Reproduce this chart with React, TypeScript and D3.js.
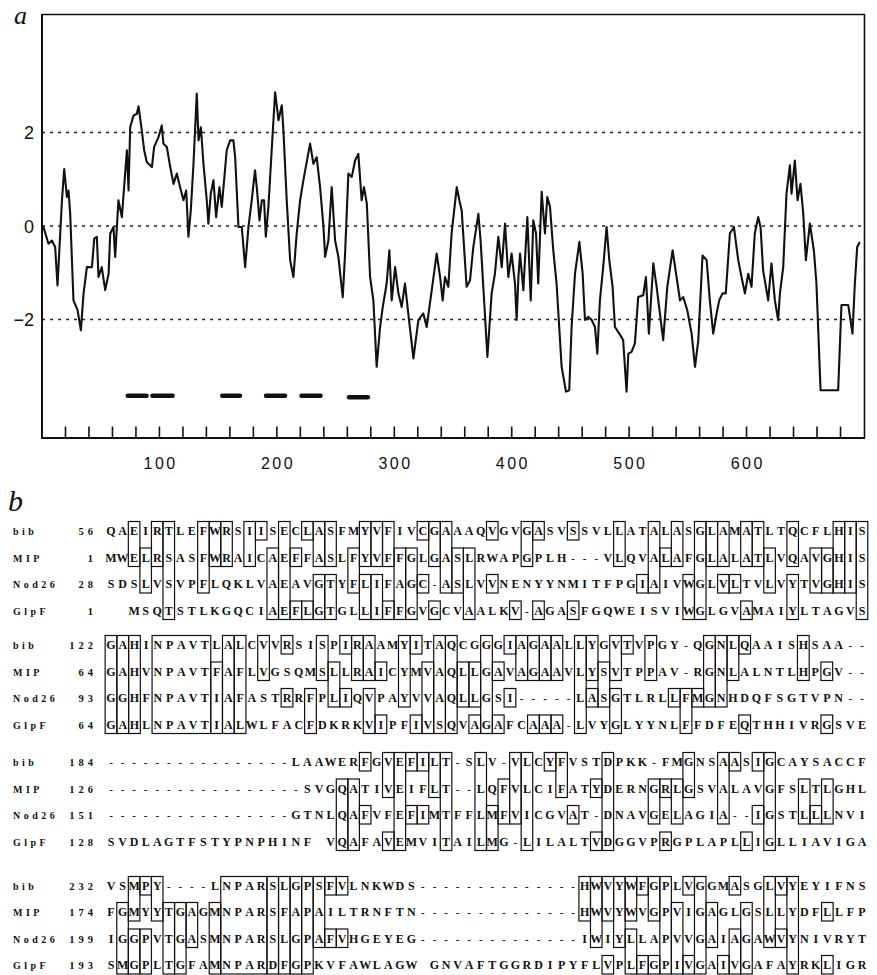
import React from 'react';
import * as d3 from 'd3';

// ---------- Panel a : hydropathy profile ----------
const residuePos = [1,5.5,8.4,11.2,13.2,17,18.9,21.2,22.6,24,26.8,30.3,33.1,35.4,38.2,42.5,44.5,46.7,48.1,50.9,53.8,56.7,58.1,60.9,62.3,65.1,68,70.8,72.3,73.7,75.1,77.9,80.8,82.2,85,87,89.2,93.6,95.5,99.2,102,103.4,106.3,109.2,112,114.8,117.6,120.5,122.8,124.7,126.7,129,131.8,133.3,135.3,137.5,140.3,141.7,143.7,146,148.3,151.1,153.1,157.3,160.2,163,164.5,167.3,170.1,173,175.8,178.6,181.4,182.9,185.2,187.2,189.1,190.6,192.8,195.6,198.5,201.4,204.2,205.6,208.4,211.3,214.1,216.9,219.8,222.6,228.3,231.1,233.9,236.8,239.7,241.1,243.9,246.7,249.6,252.4,256.1,258.1,260.9,263.8,266.6,269.4,272.2,274.2,276.6,279.4,282.2,285,287.9,290.2,293.5,295.8,297.8,300.7,303.5,306.3,309.1,311.9,316.3,320.5,324.7,327.6,331.9,336.1,339,341.2,343.2,346,348.8,353.2,355.4,357.4,361.6,364.5,367.3,371.6,373.5,375.8,379.3,382.9,385.7,388.6,391.5,394.3,397.1,399.9,402.8,404.2,405.7,407.1,409.9,413.3,416.2,418.4,420.7,422.6,425.5,428.3,430.3,432.6,435.4,438.2,442.5,446.2,449,451,453.9,457.6,460.4,462.4,465.2,468.1,470.9,472.9,475.1,477.9,480.8,483.1,485.9,487.9,491.6,494.9,497.8,499.3,502.1,504.9,507.7,512,514.3,516.8,520.6,523.4,526.2,529,532.5,537,540.4,543.3,546.1,549.5,553.2,556.1,558.9,562.5,566,568.7,571.6,574.5,576.7,579.5,582.3,585.8,589.2,592.9,595.7,598.6,601.4,604.2,607,609.9,611.9,614.1,618.4,621.2,624.1,626.9,628.4,631.2,634,636.9,638.3,641.1,643.4,645.9,648.3,650.5,653.9,657.3,659.5,663,678,680.8,686.6,690.2,692.2,694.2,696.4];
const hydropathy = [0,-0.38,-0.31,-0.45,-1.27,0.55,1.22,0.62,0.76,0.26,-1.59,-1.8,-2.23,-1.44,-0.88,-0.88,-0.27,-0.23,-1.09,-0.88,-1.37,-1.02,-0.16,-0.02,-0.66,0.55,0.19,1.12,1.62,0.76,2.11,2.36,2.4,2.56,2.04,1.62,1.37,1.26,1.69,1.9,2.15,1.76,1.69,1.26,0.9,1.12,0.83,0.55,0.76,-0.23,0.33,1.33,2.83,1.83,2.11,1.33,0.55,0.05,0.69,0.98,0.19,0.83,0.41,1.62,1.83,1.83,1.47,-0.02,-0.02,-0.88,-0.02,0.55,1.19,0.83,0.12,0.55,0.55,-0.23,0.41,1.62,2.86,2.26,2.58,2.04,0.55,-0.73,-1.09,-0.16,0.55,0.98,1.76,1.33,1.47,0.83,-0.02,-0.66,-0.31,0.83,-0.31,-0.66,-1.52,-0.59,1.12,1.05,1.4,1.54,0.55,0.83,0.48,-1.09,-1.59,-3.01,-2.16,-1.73,-1.23,-0.52,-1.59,-0.88,-1.44,-1.73,-1.23,-1.87,-2.83,-2.01,-1.87,-2.16,-1.37,-0.59,-1.09,-1.59,-1.09,-1.3,-0.16,0.83,0.55,0.33,-1.3,-1.16,-0.45,0.26,-0.31,-1.3,-2.8,-1.44,-1.02,-0.23,-0.88,0.05,-1.09,-0.59,-1.23,-2.01,-1.09,-0.59,-1.37,0.19,-1.59,0.12,-0.16,-1.23,0.73,-0.16,0.62,0.41,-0.52,-1.23,-3.01,-3.54,-3.51,-2.16,-1.02,-0.34,-1.02,-2.01,-1.94,-2.01,-2.16,-2.73,-1.59,-0.88,-0.02,-0.73,-1.3,-2.16,-2.3,-2.44,-3.54,-2.73,-2.69,-2.51,-1.52,-1.48,-1.09,-2.3,-0.8,-1.3,-1.87,-2.44,-1.3,-0.52,-1.09,-1.59,-1.52,-1.8,-2.3,-3.01,-2.44,-0.63,-0.73,-1.59,-2.3,-1.87,-1.59,-1.44,-1.44,-0.16,-0.02,-0.73,-1.09,-1.44,-1.02,-1.3,-0.16,0.19,-0.02,-0.95,-1.59,-0.8,-1.59,-2.01,-1.44,-0.88,0.69,1.3,0.69,1.4,0.55,0.9,0.26,-0.73,0.05,-0.52,-1.23,-3.51,-3.51,-1.69,-1.69,-2.3,-1.23,-0.45,-0.34];

const gridValues = [-2, 0, 2];
const yTickLabels = ['\u22122', '0', '2'];
const xTicks = [20,40,60,80,100,120,140,160,180,200,220,240,260,280,300,320,340,360,380,400,420,440,460,480,500,520,540,560,580,600,620,640,660,680];
const xTickLabels = [100, 200, 300, 400, 500, 600];
const tmStart = [73, 94, 153.5, 190.8, 221, 261.4];
const tmEnd = [89, 111.2, 168.6, 207, 237.2, 277.5];
const tmLevel = [-3.63, -3.63, -3.63, -3.63, -3.63, -3.66];

// ---------- Panel b : alignment ----------
const proteinNames = ['bib', 'MIP', 'Nod26', 'GlpF'];
const blockStartNumbers = [
  [56, 1, 28, 1],
  [122, 64, 93, 64],
  [184, 126, 151, 128],
  [232, 174, 199, 193],
];
const block1Seqs = [
  'QAEIRTLEFWRSIISECLASFMYVFIVCGAAAQVGVGASVSSVLLATALASGLAMATLTQCFLHIS',
  'MWELRSASFWRAICAEFFASLFYVFFGLGASLRWAPGPLH---VLQVALAFGLALATLVQAVGHIS',
  'SDSLVSVPFLQKLVAEAVGTYFLIFAGC-ASLVVNENYYNMITFPGIAIVWGLVLTVLVYTVGHIS',
  '  MSQTSTLKGQCIAEFLGTGLLIFFGVGCVAALKV-AGASFGQWEISVIWGLGVAMAIYLTAGVS',
];
const block2Seqs = [
  'GAHINPAVTLALCVVRSISPIRAAMYITAQCGGGIAGAALLYGVTVPGY-QGNLQAAISHSAA--',
  'GAHVNPAVTFAFLVGSQMSLLRAICYMVAQLLGAVAGAAVLYSVTPPAV-RGNLALNTLHPGV--',
  'GGHFNPAVTIAFASTRRFPLIQVPAYVVAQLLGSI-----LASGTLRLLFMGNHDQFSGTVPN--',
  'GAHLNPAVTIALWLFACFDKRKVIPFIVSQVAGAFCAAA-LVYGLYYNLFFDFEQTHHIVRGSVE',
];
const block3Seqs = [
  '----------------LAAWERFGVEFILT-SLV-VLCYFVSTDPKK-FMGNSAASIGCAYSACCF',
  '-----------------SVGQATIVEIFLT--LQFVLCIFATYDERNGRLGSVALAVGFSLTLGHL',
  '----------------GTNLQAFVFEFIMTFFLMFVICGVAT-DNAVGELAGIA--IGSTLLLNVI',
  'SVDLAGTFSTYPNPHINF VQAFAVEMVITAILMG-LILALTVDGGVPRGPLAPLLIGLLIAVIGA',
];
const block4Seqs = [
  'VSMPY----LNPARSLGPSFVLNKWDS--------------HWVYWFGPLVGGMASGLVYEYIFNS',
  'FGMYYTGAGMNPARSFAPAILTRNFTN--------------HWVYWVGPVIGAGLGSLLYDFLLFP',
  'IGGPVTGASMNPARSLGPAFVHGEYEG--------------IWIYLLAPVVGAIAGAWVYNIVRYT',
  'SMGPLTGFAMNPARDFGPKVFAWLAGW GNVAFTGGRDIPYFLVPLFGPIVGAIVGAFAYRKLIGR',
];
// boxes: [firstColumn, lastColumn, firstRow, lastRow]
const block1Boxes = [[2,2,0,1],[3,3,1,2],[4,4,0,1],[5,5,0,3],[8,8,0,2],[9,9,0,1],[10,10,0,1],[12,12,0,1],[13,13,0,0],[14,14,1,3],[15,15,0,3],[16,16,1,1],[16,16,3,3],[17,17,0,0],[17,17,3,3],[18,18,0,1],[18,18,2,3],[19,19,0,1],[19,19,2,3],[21,21,1,2],[22,22,0,1],[22,22,2,3],[23,23,0,1],[23,23,2,3],[24,24,0,1],[24,24,3,3],[25,25,1,3],[26,26,1,3],[27,27,0,0],[27,27,2,2],[28,28,0,1],[28,28,3,3],[29,29,0,2],[30,30,1,2],[31,31,1,3],[33,33,0,0],[33,33,2,2],[35,35,3,3],[36,36,0,1],[37,37,0,0],[37,37,3,3],[40,40,0,0],[40,40,3,3],[44,44,0,1],[46,46,2,2],[47,47,0,2],[48,48,1,1],[49,49,0,1],[50,50,2,3],[51,51,0,3],[52,52,0,1],[53,53,0,1],[53,53,2,2],[54,54,2,2],[55,55,0,1],[55,55,3,3],[56,56,0,1],[57,57,1,2],[59,59,0,1],[59,59,2,3],[61,61,1,2],[62,62,1,2],[63,63,0,2],[64,64,0,2],[65,65,0,3]];
const block2Boxes = [[0,0,0,3],[1,1,0,3],[2,2,0,3],[4,8,0,3],[9,9,1,3],[10,10,0,3],[11,11,0,3],[13,13,0,1],[15,15,0,0],[15,15,2,2],[17,17,2,3],[18,18,0,1],[19,19,1,2],[20,20,0,0],[20,20,2,2],[21,21,0,1],[22,22,0,1],[22,22,2,3],[23,23,1,1],[23,23,3,3],[25,25,0,2],[26,26,0,0],[26,26,3,3],[27,27,1,3],[28,28,0,3],[29,29,0,3],[30,30,1,2],[31,31,1,2],[31,31,3,3],[32,32,0,3],[33,33,1,1],[33,33,3,3],[34,34,0,0],[34,34,2,2],[35,35,0,1],[36,36,0,1],[36,36,3,3],[37,37,0,1],[37,37,3,3],[38,38,0,1],[38,38,3,3],[40,40,0,3],[41,41,0,1],[41,41,2,2],[42,42,1,2],[43,43,0,1],[43,43,2,3],[44,44,0,0],[46,46,0,1],[48,48,2,2],[49,49,2,3],[50,50,2,2],[51,51,0,2],[52,52,0,2],[53,53,0,1],[54,54,0,0],[54,54,3,3],[59,59,0,1],[61,61,1,1],[61,61,3,3]];
const block3Boxes = [[20,20,1,3],[21,21,1,3],[22,22,0,0],[22,22,2,2],[24,24,0,1],[24,24,3,3],[25,25,0,3],[26,26,0,0],[26,26,2,2],[27,27,0,0],[27,27,2,2],[28,28,0,1],[29,29,0,3],[32,32,0,3],[33,33,2,3],[34,34,1,2],[35,35,0,2],[36,36,0,3],[38,38,0,0],[39,39,0,1],[40,40,2,2],[42,42,1,1],[42,42,3,3],[43,43,0,3],[47,47,1,2],[48,48,1,1],[48,48,3,3],[49,49,1,2],[50,50,0,1],[53,53,0,2],[54,54,0,0],[55,55,3,3],[56,56,0,0],[56,56,2,2],[57,57,0,3],[60,60,1,2],[61,61,2,2],[62,62,1,2]];
const block4Boxes = [[1,1,1,3],[2,2,0,1],[2,2,2,3],[3,3,0,0],[3,3,2,3],[4,4,0,1],[5,5,1,3],[6,6,1,3],[7,7,1,2],[9,9,1,3],[10,13,0,3],[14,14,0,3],[15,15,0,3],[16,16,0,3],[17,17,0,3],[18,18,0,2],[19,19,0,0],[19,19,2,2],[20,20,0,0],[20,20,2,2],[41,41,0,1],[42,42,0,2],[43,43,0,1],[43,43,3,3],[44,44,0,2],[45,45,0,1],[45,45,2,3],[46,46,0,0],[46,46,3,3],[47,47,0,1],[47,47,3,3],[48,48,0,3],[49,49,1,3],[50,50,0,0],[50,50,3,3],[51,51,0,3],[52,52,1,2],[53,53,3,3],[54,54,0,0],[54,54,2,3],[55,55,1,3],[57,57,0,2],[58,58,0,0],[58,58,2,2],[59,59,0,3],[62,62,1,1],[62,62,3,3]];

const SANS = '"Liberation Sans", Arial, Helvetica, sans-serif';
const SERIF = '"Liberation Serif", "Times New Roman", serif';

export default function App() {
  const W = 877, H = 975;
  const x = d3.scaleLinear().domain([0, 700]).range([42, 864]);
  const y = d3.scaleLinear().domain([-4.5, 4.5]).range([436.5, 15.5]);
  const pts: [number, number][] = residuePos.map((p, i) => [p, hydropathy[i]]);
  const linePath = d3.line<[number, number]>().x(d => x(d[0])).y(d => y(d[1]))(pts) || '';

  const blocks = [
    { seqs: block1Seqs, boxes: block1Boxes, nums: blockStartNumbers[0], rows: [531, 557.5, 584, 610.5] },
    { seqs: block2Seqs, boxes: block2Boxes, nums: blockStartNumbers[1], rows: [645, 671.5, 698, 724.5] },
    { seqs: block3Seqs, boxes: block3Boxes, nums: blockStartNumbers[2], rows: [762, 788.5, 815, 841.5] },
    { seqs: block4Seqs, boxes: block4Boxes, nums: blockStartNumbers[3], rows: [886, 912, 938.5, 965] },
  ];

  return (
    <svg width={W} height={H} viewBox={`0 0 ${W} ${H}`}
      style={{ position: 'absolute', left: 0, top: 0, background: '#fff' }}>
      <rect x={0} y={0} width={W} height={H} fill="#fff" />
      {/* panel a */}
      <text x={14} y={24} fontFamily={SERIF} fontStyle="italic" fontSize={26} fill="#111">a</text>
      {gridValues.map((v, i) => (
        <g key={'g' + i}>
          <line x1={x(0)} x2={x(700)} y1={y(v)} y2={y(v)} stroke="#222" strokeWidth={1.6} strokeDasharray="3 5" />
          <text x={34} y={y(v) + 6.5} textAnchor="end" fontFamily={SANS} fontSize={18} fill="#111">{yTickLabels[i]}</text>
        </g>
      ))}
      {xTicks.map(t => (
        <line key={'t' + t} x1={x(t)} x2={x(t)} y1={438} y2={426.5} stroke="#111" strokeWidth={1.6} />
      ))}
      {xTickLabels.map(t => (
        <text key={'l' + t} x={x(t) + 1.2} y={469} textAnchor="middle" fontFamily={SANS} fontSize={16} letterSpacing={2.5} fill="#111">{t}</text>
      ))}
      {tmStart.map((s, i) => (
        <line key={'tm' + i} x1={x(s)} x2={x(tmEnd[i])} y1={y(tmLevel[i])} y2={y(tmLevel[i])} stroke="#111" strokeWidth={4.5} strokeLinecap="round" />
      ))}
      <path d={linePath} fill="none" stroke="#111" strokeWidth={2.1} strokeLinejoin="round" />
      <line x1={42} x2={42} y1={14} y2={438} stroke="#111" strokeWidth={2} />
      <line x1={41} x2={865} y1={438} y2={438} stroke="#111" strokeWidth={2} />
      <line x1={864.5} x2={864.5} y1={14} y2={438} stroke="#111" strokeWidth={1.6} />
      <line x1={42} x2={865} y1={14.5} y2={14.5} stroke="#111" strokeWidth={1.4} />

      {/* panel b */}
      <text x={8} y={511} fontFamily={SERIF} fontStyle="italic" fontSize={30} fill="#111">b</text>
      {blocks.map((b, bi) => {
        const ncols = d3.max(b.seqs, s => s.length) || 66;
        const col = d3.scaleLinear().domain([0, ncols - 1]).range([111, 862]);
        const cw = (862 - 111) / (ncols - 1);
        return (
          <g key={'b' + bi}>
            {b.boxes.map((bx, k) => {
              const [c0, c1, r0, r1] = bx;
              const top = b.rows[r0] - 9.5;
              const bot = b.rows[r1] + 9;
              return <rect key={'bx' + k} x={col(c0) - cw / 2} y={top} width={(c1 - c0 + 1) * cw} height={bot - top}
                fill="none" stroke="#111" strokeWidth={1.2} />;
            })}
            {b.seqs.map((s, ri) => (
              <g key={'r' + ri}>
                <text x={13} y={b.rows[ri] + 4} fontFamily={SERIF} fontWeight="bold" fontSize={10} letterSpacing={3.5} fill="#111">{proteinNames[ri]}</text>
                <text x={97} y={b.rows[ri] + 4} textAnchor="end" fontFamily={SERIF} fontWeight="bold" fontSize={10.5} letterSpacing={4} fill="#111">{b.nums[ri]}</text>
                {s.split('').map((ch, ci) => ch === ' ' ? null : (
                  <text key={ci} x={col(ci)} y={b.rows[ri] + 4.3} textAnchor="middle" fontFamily={SERIF}
                    fontWeight="bold" fontSize={ch === '-' ? 11 : 12} fill="#111">{ch}</text>
                ))}
              </g>
            ))}
          </g>
        );
      })}
    </svg>
  );
}
